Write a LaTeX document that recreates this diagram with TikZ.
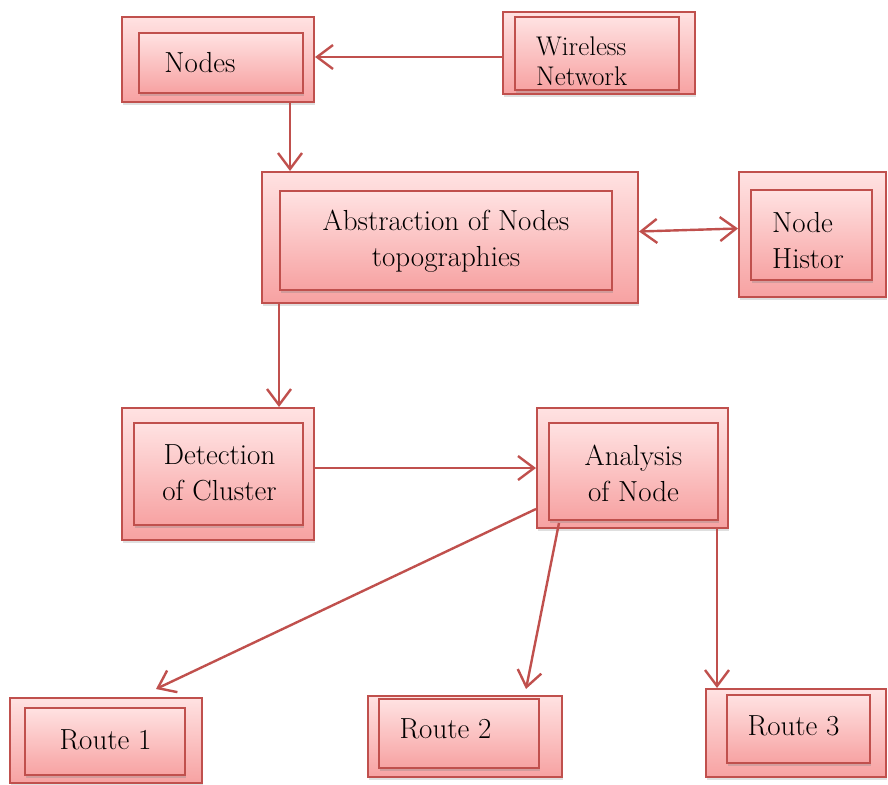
\documentclass[tikz,border=0pt]{standalone}
\definecolor{boxred}{RGB}{192, 80, 77}
\definecolor{boxtop}{RGB}{255, 226, 226}
\definecolor{boxbot}{RGB}{247, 162, 162}
\usepackage{tikz}
\usetikzlibrary{arrows.meta, shadows, positioning, calc}

\tikzset{
  outerbox/.style={draw=boxred, line width=2pt, inner sep=0pt, top color=boxtop, bottom color=boxbot,
    drop shadow={opacity=0.25, shadow xshift=1pt, shadow yshift=-3pt}},
  innerbox/.style={draw=boxred, line width=2pt, inner sep=0pt, top color=boxtop, bottom color=boxbot,
    drop shadow={opacity=0.3, shadow xshift=1pt, shadow yshift=-3pt}},
  boxtext/.style={font=\fontsize{29}{36}\selectfont, inner sep=0pt, align=center},
  flow/.style={draw=boxred, line width=2.4pt, -{Straight Barb[length=16pt, width=24pt, line width=2.4pt]}},
  flowboth/.style={flow, {Straight Barb[length=16pt, width=24pt, line width=2.4pt]}-{Straight Barb[length=16pt, width=24pt, line width=2.4pt]}}
}

\begin{document}
\begin{tikzpicture}[x=1pt, y=-1pt]
  \useasboundingbox (0,0) rectangle (888,784);

  % top row
  \node[outerbox, minimum width=192pt, minimum height=85pt] (nodes) at (218,59.5) {};
  \node[innerbox, minimum width=164pt, minimum height=60pt] (nodes-in) at (221,63) {};
  \node[boxtext] (nodes-txt) at (200,63) {Nodes};

  \node[outerbox, minimum width=192pt, minimum height=82pt] (wireless) at (599,53) {};
  \node[innerbox, minimum width=164pt, minimum height=73pt] (wireless-in) at (597,53.5) {};
  \node[boxtext, font=\fontsize{27}{30}\selectfont, anchor=west, align=left] (wireless-txt) at (536,61) {Wireless\\Network};

  % second row
  \node[outerbox, minimum width=376pt, minimum height=131pt] (abstraction) at (450,237.5) {};
  \node[innerbox, minimum width=332pt, minimum height=99pt] (abstraction-in) at (446,240.5) {};
  \node[boxtext] (abstraction-txt) at (446,241) {Abstraction of Nodes\\topographies};

  \node[outerbox, minimum width=147pt, minimum height=125pt] (histor) at (812.5,234.5) {};
  \node[innerbox, minimum width=121pt, minimum height=90pt] (histor-in) at (811.5,235) {};
  \node[boxtext, anchor=west, align=left] (histor-txt) at (772,241) {Node\\Histor};

  % third row
  \node[outerbox, minimum width=192pt, minimum height=132pt] (detection) at (218,474) {};
  \node[innerbox, minimum width=169pt, minimum height=102pt] (detection-in) at (218.5,474) {};
  \node[boxtext] (detection-txt) at (219.5,473) {Detection\\of Cluster};

  \node[outerbox, minimum width=191pt, minimum height=120pt] (analysis) at (632.5,468) {};
  \node[innerbox, minimum width=169pt, minimum height=97pt] (analysis-in) at (633.5,471.5) {};
  \node[boxtext] (analysis-txt) at (633.5,473) {Analysis\\of Node};

  % routes
  \node[outerbox, minimum width=192pt, minimum height=85pt] (route1) at (106,740.5) {};
  \node[innerbox, minimum width=160pt, minimum height=67pt] (route1-in) at (105,741.5) {};
  \node[boxtext] (route1-txt) at (105.5,740) {Route 1};

  \node[outerbox, minimum width=194pt, minimum height=81pt] (route2) at (465,736.5) {};
  \node[innerbox, minimum width=160pt, minimum height=69pt] (route2-in) at (459,733.5) {};
  \node[boxtext] (route2-txt) at (445.5,729) {Route 2};

  \node[outerbox, minimum width=180pt, minimum height=88pt] (route3) at (796,733) {};
  \node[innerbox, minimum width=143pt, minimum height=68pt] (route3-in) at (798.5,729) {};
  \node[boxtext] (route3-txt) at (793.5,726) {Route 3};

  % connectors
  \draw[flow] ([yshift=-4pt]wireless.west) -- ([yshift=-4pt]wireless.west -| nodes.east);
  \draw[flow] ([xshift=-25pt]nodes.south east) -- ([xshift=-25pt]nodes.south east |- abstraction.north);
  \draw[flowboth] ([yshift=6pt]abstraction.east) -- ([yshift=6pt]histor.west);
  \draw[flow] ([xshift=18pt]abstraction.south west) -- ([xshift=18pt]abstraction.south west |- detection.north);
  \draw[flow] (detection.east |- analysis.west) -- (analysis.west);
  \draw[flow] ([yshift=20pt]analysis.south west) -- ([xshift=-47pt, yshift=8pt]route1.north east);
  \draw[flow] ([xshift=23pt, yshift=6pt]analysis.south west) -- ([xshift=-37pt, yshift=6pt]route2.north east);
  \draw[flow] ([xshift=-12pt]analysis.south east) -- ([xshift=-12pt]analysis.south east |- route3.north);
\end{tikzpicture}
\end{document}
